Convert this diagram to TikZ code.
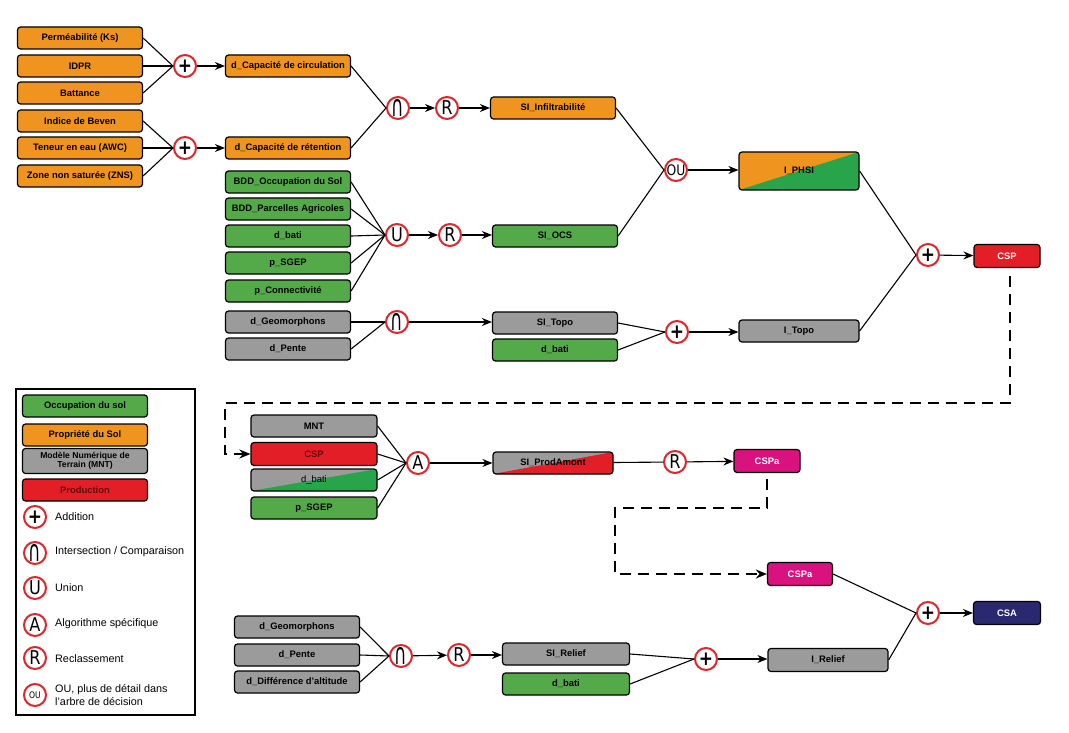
\documentclass[tikz,border=0pt]{standalone}
\usepackage{fontspec}
\setmainfont{Liberation Sans}
\newfontfamily\opfam[FakeStretch=0.85]{DejaVu Sans}
\usetikzlibrary{arrows.meta}
\definecolor{cor}{RGB}{240,148,32}
\definecolor{cgr}{RGB}{84,170,72}
\definecolor{cgrb}{RGB}{40,165,75}
\definecolor{cgy}{RGB}{155,155,155}
\definecolor{crd}{RGB}{228,30,38}
\definecolor{cmg}{RGB}{218,18,128}
\definecolor{cnv}{RGB}{42,40,112}
\definecolor{opred}{RGB}{220,40,45}
\definecolor{dkred}{RGB}{95,10,10}
\newcommand{\capsym}{\scalebox{1.05}[1.55]{∩}}
\begin{document}
\begin{tikzpicture}[x=1pt,y=-1pt,
 box/.style={draw=black, line width=1.2pt, rounded corners=3pt, minimum width=125pt, minimum height=22pt, inner sep=0pt, font=\bfseries\fontsize{9.4}{10}\selectfont, text=black},
 orb/.style={box, fill=cor},
 grb/.style={box, fill=cgr},
 gyb/.style={box, fill=cgy},
 split/.style 2 args={fill=#1, path picture={\fill[#2] (path picture bounding box.south west) -- (path picture bounding box.north east) -- (path picture bounding box.south east) -- cycle;}},
 op/.style={circle, draw=opred, line width=2pt, fill=white, minimum size=22pt, inner sep=0pt, font=\opfam\fontsize{19}{19}\selectfont},
 opplus/.style={op, font=\opfam\bfseries\fontsize{20}{20}\selectfont},
 conn/.style={line width=1.1pt, draw=black},
 arr/.style={conn, -{Stealth[length=10pt,width=8pt]}},
 dline/.style={line width=2.1pt, dash pattern=on 11pt off 7pt, -{Stealth[length=11pt,width=9pt]}},
 leg/.style={anchor=west, font=\fontsize{10.8}{12.5}\selectfont, align=left, inner sep=0pt}
]
\useasboundingbox[fill=white] (0,0) rectangle (1069,733);

% ---------- block 1: soil properties
\node[orb] (perm)  at (80,38)  {Perméabilité (Ks)};
\node[orb] (idpr)  at (80,66)  {IDPR};
\node[orb] (batt)  at (80,93)  {Battance};
\node[orb] (beven) at (80,121) {Indice de Beven};
\node[orb] (awc)   at (80,148) {Teneur en eau (AWC)};
\node[orb] (zns)   at (80,176) {Zone non saturée (ZNS)};

\node[opplus] (p1) at (185,66) {+};
\node[opplus] (p2) at (185,148) {+};
\node[orb] (dcirc) at (288,66)  {d\_Capacité de circulation};
\node[orb] (dret)  at (288,148) {d\_Capacité de rétention};

\node[op] (i1) at (398,108) {\capsym};
\node[op] (r1) at (447,108) {R};
\node[orb] (siinf) at (553,108) {SI\_Infiltrabilité};

\node[op, font=\opfam\fontsize{14.5}{14.5}\selectfont] (ou) at (676,170) {OU};
\node[box, split={cor}{cgrb}, minimum width=120pt, minimum height=38pt] (iphsi) at (799,171) {I\_PHSI};

% ---------- land use
\node[grb] (bdd1)  at (288,182) {BDD\_Occupation du Sol};
\node[grb] (bdd2)  at (288,209) {BDD\_Parcelles Agricoles};
\node[grb] (bati1) at (288,236) {d\_bati};
\node[grb] (sgep1) at (288,263) {p\_SGEP};
\node[grb] (pconn) at (288,291) {p\_Connectivité};
\node[op] (u1) at (397,235) {U};
\node[op] (r2) at (450,235) {R};
\node[grb] (siocs) at (555,236) {SI\_OCS};

% ---------- topography
\node[gyb] (geo1)   at (288,322) {d\_Geomorphons};
\node[gyb] (pente1) at (288,349) {d\_Pente};
\node[op] (i2) at (397,322) {\capsym};
\node[gyb] (sitopo) at (555,323) {SI\_Topo};
\node[grb] (bati2)  at (555,350) {d\_bati};
\node[opplus] (p3) at (677,332) {+};
\node[gyb, minimum width=120pt] (itopo) at (799,331) {I\_Topo};

\node[opplus] (p4) at (928,255) {+};
\node[box, fill=crd, text=white, minimum width=66pt, minimum height=23pt] (csp) at (1007,256) {CSP};

% ---------- block 2
\node[gyb, minimum width=126pt] (mnt)   at (314,426) {MNT};
\node[box, fill=crd, text=dkred, minimum width=126pt, minimum height=23pt] (csp2) at (314,454) {CSP};
\node[box, split={cgy}{cgrb}, font=\fontsize{9.4}{10}\selectfont, minimum width=126pt] (bati3) at (314,480) {d\_bati};
\node[grb, minimum width=126pt] (sgep2) at (314,508) {p\_SGEP};
\node[op] (a1) at (418,463) {A};
\node[box, split={cgy}{crd}, minimum width=120pt] (siprod) at (553,463) {SI\_ProdAmont};
\node[op] (r3) at (675,462) {R};
\node[box, fill=cmg, text=white, minimum width=66pt, minimum height=23pt] (cspa) at (767,461) {CSPa};

\node[box, fill=cmg, text=white, minimum width=65pt, minimum height=23pt] (cspa2) at (800,574) {CSPa};
\node[opplus] (p5) at (928,613) {+};
\node[box, fill=cnv, text=white, minimum width=67pt, minimum height=23pt] (csa) at (1007,613) {CSA};

% ---------- block 3
\node[gyb] (geo2)   at (297,627) {d\_Geomorphons};
\node[gyb] (pente2) at (297,655) {d\_Pente};
\node[gyb] (ddiff)  at (297,682) {d\_Différence d'altitude};
\node[op] (i3) at (401,656) {\capsym};
\node[op] (r4) at (459,655) {R};
\node[gyb, minimum width=127pt] (sirel) at (566,654) {SI\_Relief};
\node[grb, minimum width=127pt] (bati4) at (566,684) {d\_bati};
\node[opplus] (p6) at (706,659) {+};
\node[gyb, minimum width=120pt, minimum height=23pt] (irel) at (828,660) {I\_Relief};

% ---------- connectors block 1
\foreach \n in {perm,idpr,batt} \draw[conn] (\n.east) -- (p1.west);
\foreach \n in {beven,awc,zns} \draw[conn] (\n.east) -- (p2.west);
\draw[arr] (p1) -- (dcirc);
\draw[arr] (p2) -- (dret);
\draw[conn] (dcirc.east) -- (i1.west);
\draw[conn] (dret.east) -- (i1.west);
\draw[arr] (i1) -- (r1);
\draw[arr] (r1) -- (siinf);
\draw[conn] (siinf.east) -- (ou.west);
\draw[conn] (siocs.east) -- (ou.west);
\draw[arr] (ou.east) -- (ou.east -| iphsi.west);
\foreach \n in {bdd1,bdd2,bati1,sgep1,pconn} \draw[conn] (\n.east) -- (u1.west);
\draw[arr] (u1) -- (r2);
\draw[arr] (r2.east) -- (r2.east -| siocs.west);
\draw[conn] (geo1.east) -- (i2.west);
\draw[conn] (pente1.east) -- (i2.west);
\draw[arr] (i2.east) -- (i2.east -| sitopo.west);
\draw[conn] (sitopo.east) -- (p3.west);
\draw[conn] (bati2.east) -- (p3.west);
\draw[arr] (p3.east) -- (p3.east -| itopo.west);
\draw[conn] (iphsi.east) -- (p4.west);
\draw[conn] (itopo.east) -- (p4.west);
\draw[arr] (p4) -- (csp);

% ---------- dashed link 1
\coordinate (k1) at (1010,403);
\coordinate (k2) at (225,403);
\draw[dline, shorten <=8pt] (csp.south -| k1) -- (k1) -- (k2) |- (csp2.west);

% ---------- connectors block 2
\foreach \n in {mnt,csp2,bati3,sgep2} \draw[conn] (\n.east) -- (a1.west);
\draw[arr] (a1) -- (siprod);
\draw[conn] (siprod) -- (r3);
\draw[arr] (r3) -- (cspa);

\coordinate (k3) at (767,508);
\coordinate (k4) at (615,508);
\draw[dline, shorten <=6pt] (cspa.south) -- (k3) -- (k4) |- (cspa2.west);

\draw[conn] (cspa2.east) -- (p5.west);
\draw[conn] (irel.east) -- (p5.west);
\draw[arr] (p5) -- (csa);

% ---------- connectors block 3
\foreach \n in {geo2,pente2,ddiff} \draw[conn] (\n.east) -- (i3.west);
\draw[arr] (i3) -- (r4);
\draw[arr] (r4.east) -- (r4.east -| sirel.west);
\draw[conn] (sirel.east) -- (p6.west);
\draw[conn] (bati4.east) -- (p6.west);
\draw[arr] (p6.east) -- (p6.east -| irel.west);

% ---------- legend
\draw[line width=1.5pt] (16,389) rectangle (195,715);
\node[box, fill=cgr] (lg1) at (85,406) {Occupation du sol};
\node[box, fill=cor] (lg2) at (85,435) {Propriété du Sol};
\node[box, fill=cgy, minimum height=25pt, align=center, font=\bfseries\fontsize{8.6}{8.6}\selectfont] (lg3) at (85,461) {Modèle Numérique de\\Terrain (MNT)};
\node[box, fill=crd, text=dkred] (lg4) at (85,490) {Production};

\node[opplus] (lc1) at (35,517) {+};
\node[op] (lc2) at (35,553) {\capsym};
\node[op] (lc3) at (35,588) {U};
\node[op] (lc4) at (35,625) {A};
\node[op] (lc5) at (35,658) {R};
\node[op, font=\opfam\fontsize{9}{9}\selectfont] (lc6) at (35,695) {OU};
\node[leg] (lt1) at (55,517) {Addition};
\node[leg] (lt2) at (55,552) {Intersection / Comparaison};
\node[leg] (lt3) at (55,588) {Union};
\node[leg] (lt4) at (55,624) {Algorithme spécifique};
\node[leg] (lt5) at (55,659) {Reclassement};
\node[leg] (lt6) at (55,695) {OU, plus de détail dans\\l'arbre de décision};
\end{tikzpicture}
\end{document}
